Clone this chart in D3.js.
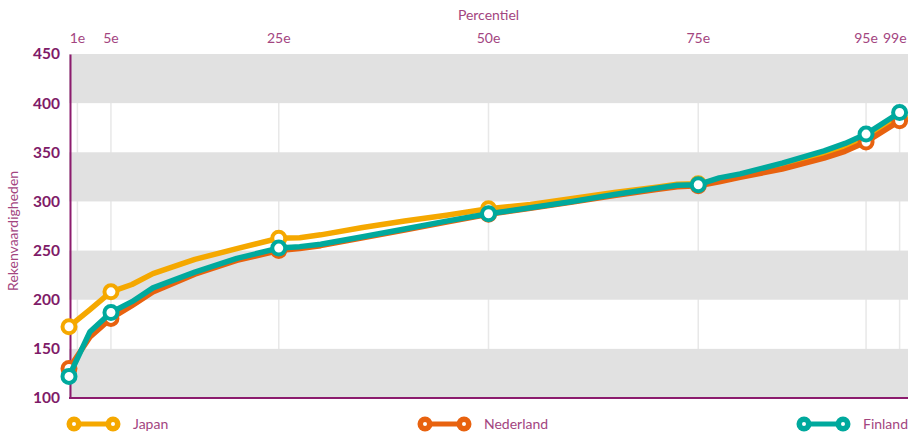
<!DOCTYPE html>
<html>
<head>
<meta charset="utf-8">
<script src="https://cdn.jsdelivr.net/npm/d3@7"></script>
<style>
  body { margin: 0; background: #fff; }
  text { font-family: Lato, "Open Sans", sans-serif; }
</style>
</head>
<body>
<svg id="chart"></svg>
<script>
const size = {w: 911, h: 447};
const plot = {l: 69, r: 908, t: 54, b: 398};

// percentiles where the lines have a vertex (the 1st percentile point sits on the axis in the source)
const pct = [0, 2.5, 5, 7.5, 10, 15, 20, 25, 27.5, 30, 35, 40, 45, 50, 55, 60, 65, 70, 72.5, 75, 77.5, 80, 85, 90, 92.5, 95, 99];
const markerPct = [0, 5, 25, 50, 75, 95, 99];

const japan = [172.5, 190, 208, 215.5, 226.5, 241, 252, 262.5, 263, 266, 273.5, 280, 286, 292.5, 297, 303, 309, 314.5, 317.5, 318, 322, 326, 335, 346.5, 354, 364, 385];
const nederland = [130, 162, 181, 194, 208, 226, 240, 250, 252, 255, 263, 271, 279, 287, 293, 299.5, 306, 312, 315, 316, 320, 324.5, 333, 344, 351, 360.5, 382];
const finland = [122, 167.5, 187, 198, 212, 228, 242, 252.5, 254, 256.5, 264, 272, 280, 287.5, 293.5, 300, 307, 313.5, 316.5, 317, 324, 328, 339, 351.5, 359, 368.5, 390.5];

const tickPct = [1, 5, 25, 50, 75, 95, 99];
const tickLabels = ['1e', '5e', '25e', '50e', '75e', '95e', '99e'];
const yTicks = [100, 150, 200, 250, 300, 350, 400, 450];

const series = [
    {name: 'Japan', values: japan, color: '#f5a800'},
    {name: 'Nederland', values: nederland, color: '#e8620f'},
    {name: 'Finland', values: finland, color: '#00a99d'}
];

const purple = '#8c1c6e';
const labelPurple = '#a3457f';

const svg = d3.select('svg#chart')
    .attr('width', size.w)
    .attr('height', size.h);

const x = d3.scaleLinear().domain([0, 100]).range([plot.l, plot.r]);
const y = d3.scaleLinear().domain([100, 450]).range([plot.b, plot.t]);

// vertical gridlines (only visible in the white bands)
svg.append('g')
    .selectAll('line')
    .data(tickPct)
    .join('line')
    .attr('x1', d => x(d)).attr('x2', d => x(d))
    .attr('y1', y(450)).attr('y2', y(100))
    .attr('stroke', '#e8e8e8')
    .attr('stroke-width', 1.5);

// alternating grey bands
const bands = [100, 200, 300, 400];
svg.append('g')
    .selectAll('rect')
    .data(bands)
    .join('rect')
    .attr('x', plot.l)
    .attr('width', plot.r - plot.l)
    .attr('y', d => y(d + 50))
    .attr('height', d => y(d) - y(d + 50))
    .attr('fill', '#e1e1e1');

// y axis
const yAxis = svg.append('g')
    .attr('transform', `translate(${plot.l + 1},0)`)
    .call(d3.axisLeft(y).tickValues(yTicks).tickSize(0).tickPadding(10));
yAxis.select('.domain').attr('stroke', purple).attr('stroke-width', 2);
yAxis.selectAll('text')
    .attr('fill', '#7f1b68')
    .attr('font-size', 15.5)
    .attr('font-weight', 'bold')
    .attr('font-family', 'Lato, sans-serif');

// x axis line at the bottom
svg.append('line')
    .attr('x1', plot.l).attr('x2', plot.r)
    .attr('y1', y(100)).attr('y2', y(100))
    .attr('stroke', purple)
    .attr('stroke-width', 2);

// percentile labels on top
svg.append('g')
    .selectAll('text')
    .data(tickPct)
    .join('text')
    .attr('x', (d, i) => i === tickPct.length - 1 ? x(d) + 7 : x(d))
    .attr('y', 43)
    .attr('text-anchor', (d, i) => i === tickPct.length - 1 ? 'end' : 'middle')
    .attr('fill', labelPurple)
    .attr('font-size', 14)
    .text((d, i) => tickLabels[i]);

svg.append('text')
    .attr('x', x(50))
    .attr('y', 20)
    .attr('text-anchor', 'middle')
    .attr('fill', labelPurple)
    .attr('font-size', 14)
    .text('Percentiel');

svg.append('text')
    .attr('transform', `translate(18, ${y(270)}) rotate(-90)`)
    .attr('text-anchor', 'middle')
    .attr('fill', labelPurple)
    .attr('font-size', 14)
    .text('Rekenvaardigheden');

// lines
const line = d3.line()
    .x((d, i) => x(pct[i]))
    .y(d => y(d));

const lineG = svg.append('g');
series.forEach(s => {
    const g = lineG.append('g');
    g.append('path')
        .attr('d', line(s.values))
        .attr('fill', 'none')
        .attr('stroke', s.color)
        .attr('stroke-width', 5.5)
        .attr('stroke-linejoin', 'round');
    g.selectAll('circle')
        .data(markerPct)
        .join('circle')
        .attr('cx', d => x(d))
        .attr('cy', d => y(s.values[pct.indexOf(d)]))
        .attr('r', 6.5)
        .attr('fill', '#fff')
        .attr('stroke', s.color)
        .attr('stroke-width', 4);
});

// legend
const legendX = [74, 425, 804];
const legend = svg.append('g')
    .selectAll('g')
    .data(series)
    .join('g')
    .attr('transform', (d, i) => `translate(${legendX[i]}, 424)`);
legend.append('line')
    .attr('x1', 0).attr('x2', 39)
    .attr('stroke', d => d.color)
    .attr('stroke-width', 5);
legend.selectAll('circle.dot')
    .data(d => [0, 39].map(cx => ({cx, color: d.color})))
    .join('circle')
    .attr('cx', d => d.cx)
    .attr('r', 7.5)
    .attr('fill', d => d.color);
legend.selectAll('circle.hole')
    .data(d => [0, 39])
    .join(enter => enter.append('circle'))
    .attr('cx', d => d)
    .attr('r', 2)
    .attr('fill', '#fff');
legend.append('text')
    .attr('x', 59)
    .attr('y', 5)
    .attr('fill', labelPurple)
    .attr('font-size', 14)
    .text(d => d.name);
</script>
</body>
</html>
